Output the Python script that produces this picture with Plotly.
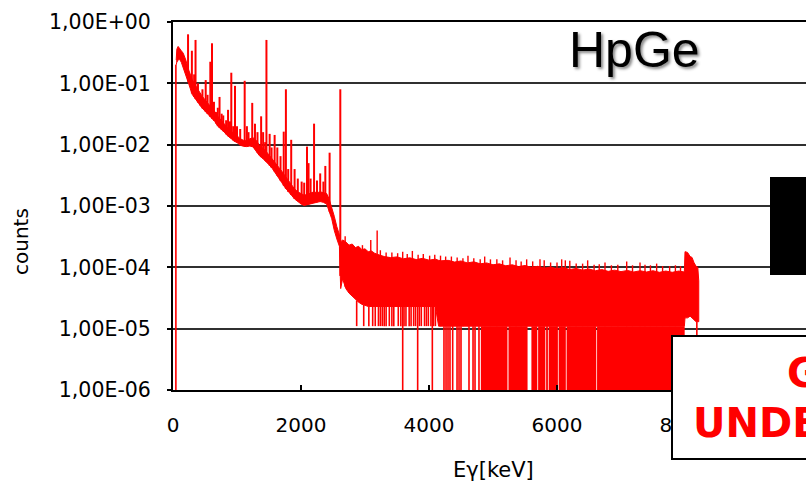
import numpy as np
import plotly.graph_objects as go

# ---- spectrum data -------------------------------------------------------
# continuum: energy (keV) with the upper and lower edge of the channel scatter
band_e = [50, 60, 80, 100, 130, 160, 200, 250, 300, 350,
          400, 450, 500, 550, 600, 650, 700, 750, 800, 850,
          900, 950, 1000, 1050, 1100, 1150, 1200, 1250, 1300, 1350,
          1400, 1450, 1500, 1550, 1600, 1650, 1700, 1750, 1800, 1850,
          1900, 1950, 2000, 2050, 2100, 2150, 2200, 2250, 2300, 2350,
          2400, 2440, 2480, 2520, 2560, 2600, 2620, 2650, 2700, 2750,
          2800, 2850, 2900, 2950, 3000, 3050, 3100, 3150, 3200, 3250,
          3300, 3400, 3500, 3600, 3700, 3800, 3900, 4000, 4100, 4150,
          4200, 4300, 4400, 4500, 4600, 4700, 4800, 4900, 5000, 5100,
          5200, 5300, 5400, 5500, 5600, 5700, 5800, 5900, 6000, 6100,
          6200, 6300, 6400, 6500, 6600, 6700, 6800, 6900, 7000, 7100,
          7200, 7300, 7400, 7500, 7600, 7700, 7800, 7900, 7990, 8000,
          8040, 8080, 8110, 8140, 8170, 8200, 8215]
band_hi = [0.24, 0.36, 0.40, 0.38, 0.34, 0.31, 0.24, 0.16, 0.115, 0.093,
           0.075, 0.063, 0.054, 0.047, 0.041, 0.035, 0.029, 0.025, 0.022, 0.019,
           0.0168, 0.0155, 0.0140, 0.0125, 0.0118, 0.0115, 0.0125, 0.0130, 0.0118, 0.0098,
           0.0088, 0.0079, 0.0068, 0.0059, 0.0051, 0.0044, 0.0037, 0.0031, 0.0026, 0.0022,
           0.0019, 0.0017, 0.0016, 0.0015, 0.00155, 0.0016, 0.0017, 0.00165, 0.0017, 0.00165,
           0.0016, 0.0013, 0.00095, 0.00068, 0.00046, 0.00034, 2.6e-4, 2.8e-4, 2.6e-4, 2.3e-4,
           2.4e-4, 2.1e-4, 2.2e-4, 1.95e-4, 2.0e-4, 1.8e-4, 1.85e-4, 1.7e-4, 1.62e-4, 1.55e-4,
           1.5e-4, 1.44e-4, 1.48e-4, 1.38e-4, 1.43e-4, 1.34e-4, 1.4e-4, 1.31e-4, 1.36e-4, 1.3e-4,
           1.28e-4, 1.3e-4, 1.22e-4, 1.27e-4, 1.18e-4, 1.23e-4, 1.14e-4, 1.18e-4, 1.1e-4, 1.14e-4,
           1.06e-4, 1.1e-4, 1.03e-4, 1.07e-4, 1.0e-4, 1.04e-4, 9.7e-5, 1.01e-4, 9.5e-5, 9.9e-5,
           9.2e-5, 9.6e-5, 9.0e-5, 9.4e-5, 8.8e-5, 9.2e-5, 8.6e-5, 9.0e-5, 8.5e-5, 8.9e-5,
           8.4e-5, 8.8e-5, 8.4e-5, 8.8e-5, 8.3e-5, 8.7e-5, 8.3e-5, 8.7e-5, 8.4e-5, 1.8e-4,
           1.75e-4, 1.5e-4, 1.45e-4, 1.2e-4, 1.05e-4, 1.0e-4, 6.0e-5]
band_lo = [0.20, 0.22, 0.24, 0.25, 0.22, 0.19, 0.14, 0.095, 0.066, 0.056,
           0.047, 0.040, 0.035, 0.031, 0.027, 0.024, 0.020, 0.018, 0.016, 0.0140,
           0.0128, 0.0115, 0.0108, 0.0098, 0.0094, 0.0093, 0.0095, 0.0092, 0.0080, 0.0066,
           0.0060, 0.0054, 0.0047, 0.0041, 0.0035, 0.0029, 0.0024, 0.0020, 0.0017, 0.0015,
           0.0013, 0.0012, 0.00108, 0.00102, 0.00105, 0.00108, 0.00112, 0.00115, 0.00118, 0.00115,
           0.00108, 0.00085, 0.00062, 0.00040, 0.00029, 0.00022, 4.5e-5, 6.5e-5, 4.5e-5, 3.8e-5,
           3.3e-5, 3.0e-5, 2.7e-5, 2.5e-5, 2.4e-5, 2.3e-5, 2.3e-5, 2.3e-5, 2.3e-5, 2.3e-5,
           2.3e-5, 2.3e-5, 2.3e-5, 2.3e-5, 2.3e-5, 2.3e-5, 2.3e-5, 2.3e-5, 2.3e-5, 1.1e-5,
           1.1e-5, 1.1e-5, 1.1e-5, 1.1e-5, 1.1e-5, 1.1e-5, 1.1e-5, 1.1e-5, 1.1e-5, 1.1e-5,
           1.1e-5, 1.1e-5, 1.1e-5, 1.1e-5, 1.1e-5, 1.1e-5, 1.1e-5, 1.1e-5, 1.1e-5, 1.1e-5,
           1.1e-5, 1.1e-5, 1.1e-5, 1.1e-5, 1.1e-5, 1.1e-5, 1.1e-5, 1.1e-5, 1.1e-5, 1.1e-5,
           1.1e-5, 1.1e-5, 1.1e-5, 1.1e-5, 1.1e-5, 1.1e-5, 1.1e-5, 1.1e-5, 1.1e-5, 1.5e-5,
           1.5e-5, 1.6e-5, 1.5e-5, 1.4e-5, 1.3e-5, 1.3e-5, 1.3e-5]

# gamma lines (keV) and their peak heights
peak_e = [235, 295, 330, 352, 390, 422, 460, 511, 540, 583, 609, 640, 672,
          700, 727, 760, 785, 830, 860, 890, 911, 940, 969, 1000, 1050, 1120,
          1155, 1180, 1238, 1281, 1320, 1377, 1408, 1440, 1460, 1510, 1540,
          1588, 1630, 1680, 1730, 1764, 1800, 1847, 1900, 1950, 2010, 2050,
          2094, 2118, 2150, 2204, 2250, 2300, 2350, 2380, 2447, 2614]
peak_h = [0.63, 0.34, 0.14, 0.51, 0.10, 0.06, 0.08, 0.113, 0.065, 0.225, 0.45,
          0.05, 0.034, 0.04, 0.06, 0.032, 0.03, 0.025, 0.037, 0.024, 0.149,
          0.02, 0.091, 0.02, 0.018, 0.11, 0.02, 0.016, 0.048, 0.022, 0.016,
          0.029, 0.016, 0.011, 0.51, 0.015, 0.009, 0.0144, 0.009, 0.0065,
          0.0163, 0.08, 0.004, 0.012, 0.004, 0.0028, 0.0025, 0.0024, 0.0093,
          0.005, 0.0028, 0.022, 0.0026, 0.0034, 0.0025, 0.0045, 0.0074, 0.08]

# single-channel fluctuations above the high-energy continuum
spike_e = [2690, 2960, 3090, 3190, 3240, 3330, 3420, 3510, 3589, 3660, 3740,
           3830, 3911, 4010, 4090, 4180, 4260, 4350, 4440, 4530, 4609, 4700,
           4800, 4870, 4960, 5060, 5150, 5266, 5360, 5440, 5526, 5620, 5734,
           5800, 5900, 6000, 6073, 6130, 6200, 6300, 6400, 6479, 6580, 6660,
           6750, 6850, 6950, 7089, 7180, 7297, 7375, 7460, 7557, 7650, 7760,
           7850, 7930]
spike_h = [3.2e-4, 2.3e-4, 2.8e-4, 4.0e-4, 1.9e-4, 1.75e-4, 1.75e-4, 1.7e-4,
           1.8e-4, 1.65e-4, 1.85e-4, 1.6e-4, 1.65e-4, 1.55e-4, 1.6e-4, 1.55e-4,
           1.5e-4, 1.5e-4, 1.45e-4, 1.4e-4, 1.55e-4, 1.4e-4, 1.35e-4, 1.5e-4,
           1.35e-4, 1.35e-4, 1.3e-4, 1.45e-4, 1.3e-4, 1.25e-4, 1.35e-4,
           1.25e-4, 1.35e-4, 1.3e-4, 1.2e-4, 1.2e-4, 1.35e-4, 1.3e-4, 1.28e-4,
           1.15e-4, 1.15e-4, 1.3e-4, 1.1e-4, 1.12e-4, 1.2e-4, 1.08e-4, 1.1e-4,
           1.25e-4, 1.08e-4, 1.2e-4, 1.1e-4, 1.08e-4, 1.15e-4, 1.05e-4,
           1.05e-4, 1.08e-4, 1.05e-4]

# channels holding a single count, and channels with no counts at all
one_count_e = [2870, 2980, 3060, 3120, 3160, 3210, 3240, 3270, 3300, 3330, 3380,
               3420, 3450, 3520, 3560, 3610, 3640, 3690, 3720, 3760, 3790,
               3850, 3880, 3930, 3960, 3990, 4030, 4070, 4100]
zero_e = [45, 3589, 3823, 4052, 4234, 4266, 4297, 4328, 4370, 4438, 4469, 4500,
          4625, 4688, 4719, 4781, 8185]
zero_span_start = [4810, 5242, 5600, 5705, 5830, 5870, 6026, 6150, 6626]
zero_span_end = [5226, 5540, 5692, 5818, 5858, 6014, 6138, 6614, 7995]

one_count = 1.1e-5
floor = 1e-7          # stands in for zero counts on the log axis

y_ticks = [1e-6, 1e-5, 1e-4, 1e-3, 1e-2, 1e-1, 1e0]
y_labels = ["1,00E-06", "1,00E-05", "1,00E-04", "1,00E-03",
            "1,00E-02", "1,00E-01", "1,00E+00"]
x_ticks = [0, 2000, 4000, 6000, 8000]

RED = "#FF0000"
log_lo = np.log10(band_lo)


def lo_at(e):
    return float(10 ** np.interp(e, band_e, log_lo))


def verticals(xs, y0s, y1s):
    px, py = [], []
    for x, a, b in zip(xs, y0s, y1s):
        px += [x, x, None]
        py += [a, b, None]
    return px, py


fig = go.Figure()

# continuum band
fig.add_trace(go.Scatter(
    x=band_e + band_e[::-1], y=band_hi + band_lo[::-1],
    mode="lines", fill="toself", fillcolor=RED,
    line=dict(color=RED, width=1), hoverinfo="skip"))

# runs of empty channels (zero counts up to the one-count level)
sx, sy = [], []
for a, b in zip(zero_span_start, zero_span_end):
    sx += [a, b, b, a, a, None]
    sy += [floor, floor, one_count, one_count, floor, None]
fig.add_trace(go.Scatter(x=sx, y=sy, mode="lines", fill="toself",
                         fillcolor=RED, line=dict(color=RED, width=0),
                         hoverinfo="skip"))

# isolated empty channels
vx, vy = verticals(zero_e, [floor] * len(zero_e), [lo_at(e) for e in zero_e])
fig.add_trace(go.Scatter(x=vx, y=vy, mode="lines",
                         line=dict(color=RED, width=1.6), hoverinfo="skip"))

# single-count channels
vx, vy = verticals(one_count_e, [one_count] * len(one_count_e),
                   [lo_at(e) for e in one_count_e])
fig.add_trace(go.Scatter(x=vx, y=vy, mode="lines",
                         line=dict(color=RED, width=1.6), hoverinfo="skip"))

# gamma lines
vx, vy = verticals(peak_e, [lo_at(e) for e in peak_e], peak_h)
fig.add_trace(go.Scatter(x=vx, y=vy, mode="lines",
                         line=dict(color=RED, width=2), hoverinfo="skip"))

# fluctuations on the tail
vx, vy = verticals(spike_e, [lo_at(e) for e in spike_e], spike_h)
fig.add_trace(go.Scatter(x=vx, y=vy, mode="lines",
                         line=dict(color=RED, width=1.4), hoverinfo="skip"))

L, T, B = 173, 22, 96
W, H = 806, 486
PW, PH = W - L, H - T - B


def px_x(p):
    return (p - L) / PW


def px_y(p):
    return (H - B - p) / PH


fig.update_layout(
    width=W, height=H,
    margin=dict(l=L, r=0, t=T, b=B, pad=0),
    paper_bgcolor="white", plot_bgcolor="white",
    showlegend=False,
    font=dict(family="DejaVu Sans", color="black"),
    xaxis=dict(range=[0, PW / 0.064], tickvals=x_ticks,
               ticks="inside", ticklen=5, tickwidth=1.5, tickcolor="black",
               showline=True, linecolor="black", linewidth=2, mirror=True,
               showgrid=False, zeroline=False,
               tickfont=dict(size=20, color="black"),
               ticklabelstandoff=16),
    yaxis=dict(type="log", range=[-6, 0], tickvals=y_ticks, ticktext=y_labels,
               ticks="outside", ticklen=4, tickwidth=1.5, tickcolor="black",
               showline=True, linecolor="black", linewidth=2,
               showgrid=True, gridcolor="#303030", gridwidth=1.6,
               zeroline=False, tickfont=dict(size=20.5, color="black"),
               ticklabelstandoff=12),
)

fig.add_shape(type="rect", xref="paper", yref="paper",
              x0=px_x(770), x1=px_x(830), y0=px_y(275), y1=px_y(177),
              fillcolor="black", line=dict(width=0), layer="above")
fig.add_shape(type="rect", xref="paper", yref="paper",
              x0=px_x(672), x1=px_x(900), y0=px_y(459), y1=px_y(336),
              fillcolor="white", line=dict(color="black", width=2),
              layer="above")

fig.add_annotation(text="HpGe", xref="paper", yref="paper",
                   x=px_x(567), y=px_y(50), xanchor="left", yanchor="middle",
                   showarrow=False,
                   font=dict(family="Liberation Sans", size=50, color="black",
                             shadow="2px 2px 3px #888"))
fig.add_annotation(text="counts", xref="paper", yref="paper",
                   x=px_x(21), y=px_y(242), xanchor="center", yanchor="middle",
                   textangle=-90, showarrow=False, font=dict(size=20))
fig.add_annotation(text="Eγ[keV]", xref="paper", yref="paper",
                   x=px_x(493), y=px_y(470), xanchor="center", yanchor="middle",
                   showarrow=False, font=dict(size=21))
fig.add_annotation(text="GE", xref="paper", yref="paper",
                   x=px_x(785), y=px_y(373), xanchor="left", yanchor="middle",
                   showarrow=False,
                   font=dict(size=40, color=RED, weight="bold"))
fig.add_annotation(text="UNDERGROUND", xref="paper", yref="paper",
                   x=px_x(691), y=px_y(423), xanchor="left", yanchor="middle",
                   showarrow=False,
                   font=dict(size=40, color=RED, weight="bold"))

fig.write_html("out.html")
